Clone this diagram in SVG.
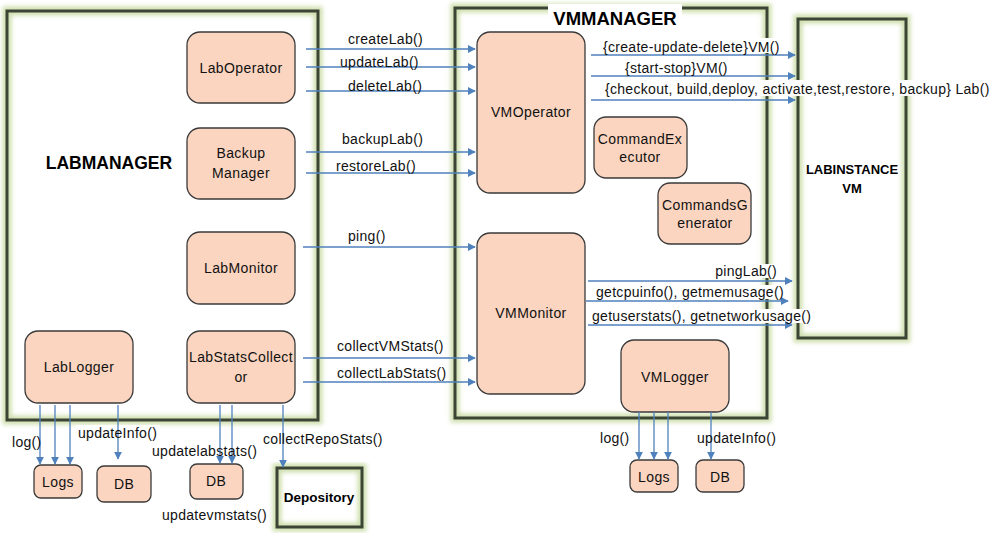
<svg xmlns="http://www.w3.org/2000/svg" width="1001" height="533" viewBox="0 0 1001 533">
<style>
.glow{fill:none;stroke:#cfdfae;stroke-width:9;filter:url(#soft)}
.frame{fill:none;stroke:#3c4436;stroke-width:3}
.node{fill:#fbd5c0;stroke:#3a3a3a;stroke-width:1.3}
.nt{font-family:"Liberation Sans",Arial,sans-serif;font-size:14px;letter-spacing:0.4px;fill:#111;text-anchor:middle}
.bt{font-family:"Liberation Sans",Arial,sans-serif;font-weight:bold;fill:#000;text-anchor:middle}
.lb{font-family:"Liberation Sans",Arial,sans-serif;font-size:14px;letter-spacing:0.3px;fill:#111}
.bg{fill:#fff}
.c{stroke:#4f81bd;stroke-width:1.3;fill:none;marker-end:url(#ah)}
</style>
<defs>
<marker id="ah" viewBox="0 0 10 10" refX="9" refY="5" markerWidth="8" markerHeight="8" markerUnits="userSpaceOnUse" orient="auto">
<path d="M0,0 L10,5 L0,10 z" fill="#4f81bd"/>
</marker>
<filter id="soft" x="-10%" y="-10%" width="120%" height="120%"><feGaussianBlur stdDeviation="2"/></filter>
</defs>
<rect width="1001" height="533" fill="#fff"/>

<g id="labmanager">
<rect class="glow" x="7" y="11" width="311" height="409"/>
<rect class="frame" x="7" y="11" width="311" height="409"/>
<text class="bt" x="109" y="169" font-size="17.5">LABMANAGER</text>
</g>
<g id="vmmanager">
<rect class="glow" x="455" y="8" width="312" height="410"/>
<rect class="frame" x="455" y="8" width="312" height="410"/>
<rect class="bg" x="548" y="4" width="134" height="26"/>
<text class="bt" x="615" y="25" font-size="18.5">VMMANAGER</text>
</g>
<g id="labinstance">
<rect class="glow" x="798" y="19" width="108" height="319"/>
<rect class="frame" x="798" y="19" width="108" height="319"/>
<text class="bt" x="852" y="174" font-size="13">LABINSTANCE</text>
<text class="bt" x="852" y="193" font-size="13">VM</text>
</g>
<g id="depository">
<rect class="glow" x="277" y="468" width="85" height="59"/>
<rect class="frame" x="277" y="468" width="85" height="59"/>
<text class="bt" x="319" y="502" font-size="13.5">Depository</text>
</g>

<g id="label-bgs">
<rect class="bg" x="601" y="38" width="186" height="15"/>
<rect class="bg" x="622" y="60" width="112" height="14"/>
<rect class="bg" x="602" y="80" width="392" height="16"/>
<rect class="bg" x="716" y="264" width="64" height="14"/>
<rect class="bg" x="593" y="285" width="192" height="14"/>
<rect class="bg" x="590" y="309" width="224" height="14"/>
<rect class="bg" x="76" y="425" width="84" height="16"/>
</g>

<g id="labOperator"><rect class="node" x="187" y="32" width="108" height="71" rx="13"/><text class="nt" x="241" y="73">LabOperator</text></g>
<g id="backupManager"><rect class="node" x="187" y="128" width="108" height="71" rx="13"/><text class="nt" x="241" y="158">Backup</text><text class="nt" x="241" y="178">Manager</text></g>
<g id="labMonitor"><rect class="node" x="187" y="232" width="108" height="72" rx="13"/><text class="nt" x="241" y="273">LabMonitor</text></g>
<g id="labLogger"><rect class="node" x="25" y="331" width="108" height="72" rx="13"/><text class="nt" x="79" y="372">LabLogger</text></g>
<g id="labStatsCollector"><rect class="node" x="187" y="331" width="108" height="72" rx="13"/><text class="nt" x="241" y="362">LabStatsCollect</text><text class="nt" x="241" y="382">or</text></g>
<g id="logs1"><rect class="node" x="34" y="465" width="48" height="33" rx="7"/><text class="nt" x="58" y="487">Logs</text></g>
<g id="db1"><rect class="node" x="97" y="466" width="54" height="36" rx="7"/><text class="nt" x="124" y="489">DB</text></g>
<g id="db2"><rect class="node" x="190" y="464" width="53" height="35" rx="7"/><text class="nt" x="216" y="486">DB</text></g>
<g id="vmOperator"><rect class="node" x="477" y="32" width="108" height="161" rx="13"/><text class="nt" x="531" y="117">VMOperator</text></g>
<g id="commandExecutor"><rect class="node" x="594" y="117" width="93" height="61" rx="12"/><text class="nt" x="640" y="144">CommandEx</text><text class="nt" x="640" y="162">ecutor</text></g>
<g id="commandsGenerator"><rect class="node" x="658" y="183" width="93" height="61" rx="12"/><text class="nt" x="705" y="210">CommandsG</text><text class="nt" x="705" y="228">enerator</text></g>
<g id="vmMonitor"><rect class="node" x="477" y="233" width="108" height="161" rx="13"/><text class="nt" x="531" y="318">VMMonitor</text></g>
<g id="vmLogger"><rect class="node" x="621" y="340" width="108" height="72" rx="13"/><text class="nt" x="675" y="382">VMLogger</text></g>
<g id="logs2"><rect class="node" x="630" y="460" width="48" height="32" rx="7"/><text class="nt" x="654" y="482">Logs</text></g>
<g id="db3"><rect class="node" x="696" y="460" width="48" height="32" rx="7"/><text class="nt" x="720" y="482">DB</text></g>

<g id="connectors">
<line class="c" x1="306" y1="49" x2="475" y2="49"/>
<line class="c" x1="306" y1="67" x2="475" y2="67"/>
<line class="c" x1="306" y1="91" x2="475" y2="91"/>
<line class="c" x1="306" y1="152" x2="475" y2="152"/>
<line class="c" x1="306" y1="173" x2="475" y2="173"/>
<line class="c" x1="303" y1="247" x2="475" y2="247"/>
<line class="c" x1="303" y1="358" x2="475" y2="358"/>
<line class="c" x1="303" y1="382" x2="475" y2="382"/>
<line class="c" x1="591" y1="55" x2="795" y2="55"/>
<line class="c" x1="591" y1="76" x2="795" y2="76"/>
<line class="c" x1="591" y1="100" x2="795" y2="100"/>
<line class="c" x1="588" y1="281" x2="792" y2="281"/>
<line class="c" x1="586" y1="301" x2="788" y2="301"/>
<line class="c" x1="588" y1="325" x2="792" y2="325"/>
<line class="c" x1="40" y1="405" x2="40" y2="464"/>
<line class="c" x1="55" y1="405" x2="55" y2="464"/>
<line class="c" x1="70" y1="405" x2="70" y2="464"/>
<line class="c" x1="118" y1="405" x2="118" y2="459"/>
<line class="c" x1="220" y1="405" x2="220" y2="463"/>
<line class="c" x1="232" y1="405" x2="232" y2="463"/>
<line class="c" x1="283" y1="405" x2="283" y2="467"/>
<line class="c" x1="639" y1="412" x2="639" y2="459"/>
<line class="c" x1="654" y1="412" x2="654" y2="459"/>
<line class="c" x1="668" y1="412" x2="668" y2="459"/>
<line class="c" x1="711" y1="412" x2="711" y2="459"/>
</g>

<g id="labels">
<text class="lb" x="348" y="44">createLab()</text>
<text class="lb" x="340" y="67">updateLab()</text>
<text class="lb" x="348" y="91">deleteLab()</text>
<text class="lb" x="342" y="144">backupLab()</text>
<text class="lb" x="336" y="171">restoreLab()</text>
<text class="lb" x="348" y="241">ping()</text>
<text class="lb" x="337" y="351">collectVMStats()</text>
<text class="lb" x="337" y="378">collectLabStats()</text>
<text class="lb" x="603" y="52">{create-update-delete}VM()</text>
<text class="lb" x="625" y="73">{start-stop}VM()</text>
<text class="lb" x="605" y="94">{checkout, build,deploy, activate,test,restore, backup} Lab()</text>
<text class="lb" x="777" y="276" text-anchor="end">pingLab()</text>
<text class="lb" x="596" y="297">getcpuinfo(), getmemusage()</text>
<text class="lb" x="592" y="321">getuserstats(), getnetworkusage()</text>
<text class="lb" x="12" y="447">log()</text>
<text class="lb" x="78" y="438">updateInfo()</text>
<text class="lb" x="152" y="456">updatelabstats()</text>
<text class="lb" x="263" y="444">collectRepoStats()</text>
<text class="lb" x="162" y="520">updatevmstats()</text>
<text class="lb" x="600" y="443">log()</text>
<text class="lb" x="697" y="443">updateInfo()</text>
</g>
</svg>
